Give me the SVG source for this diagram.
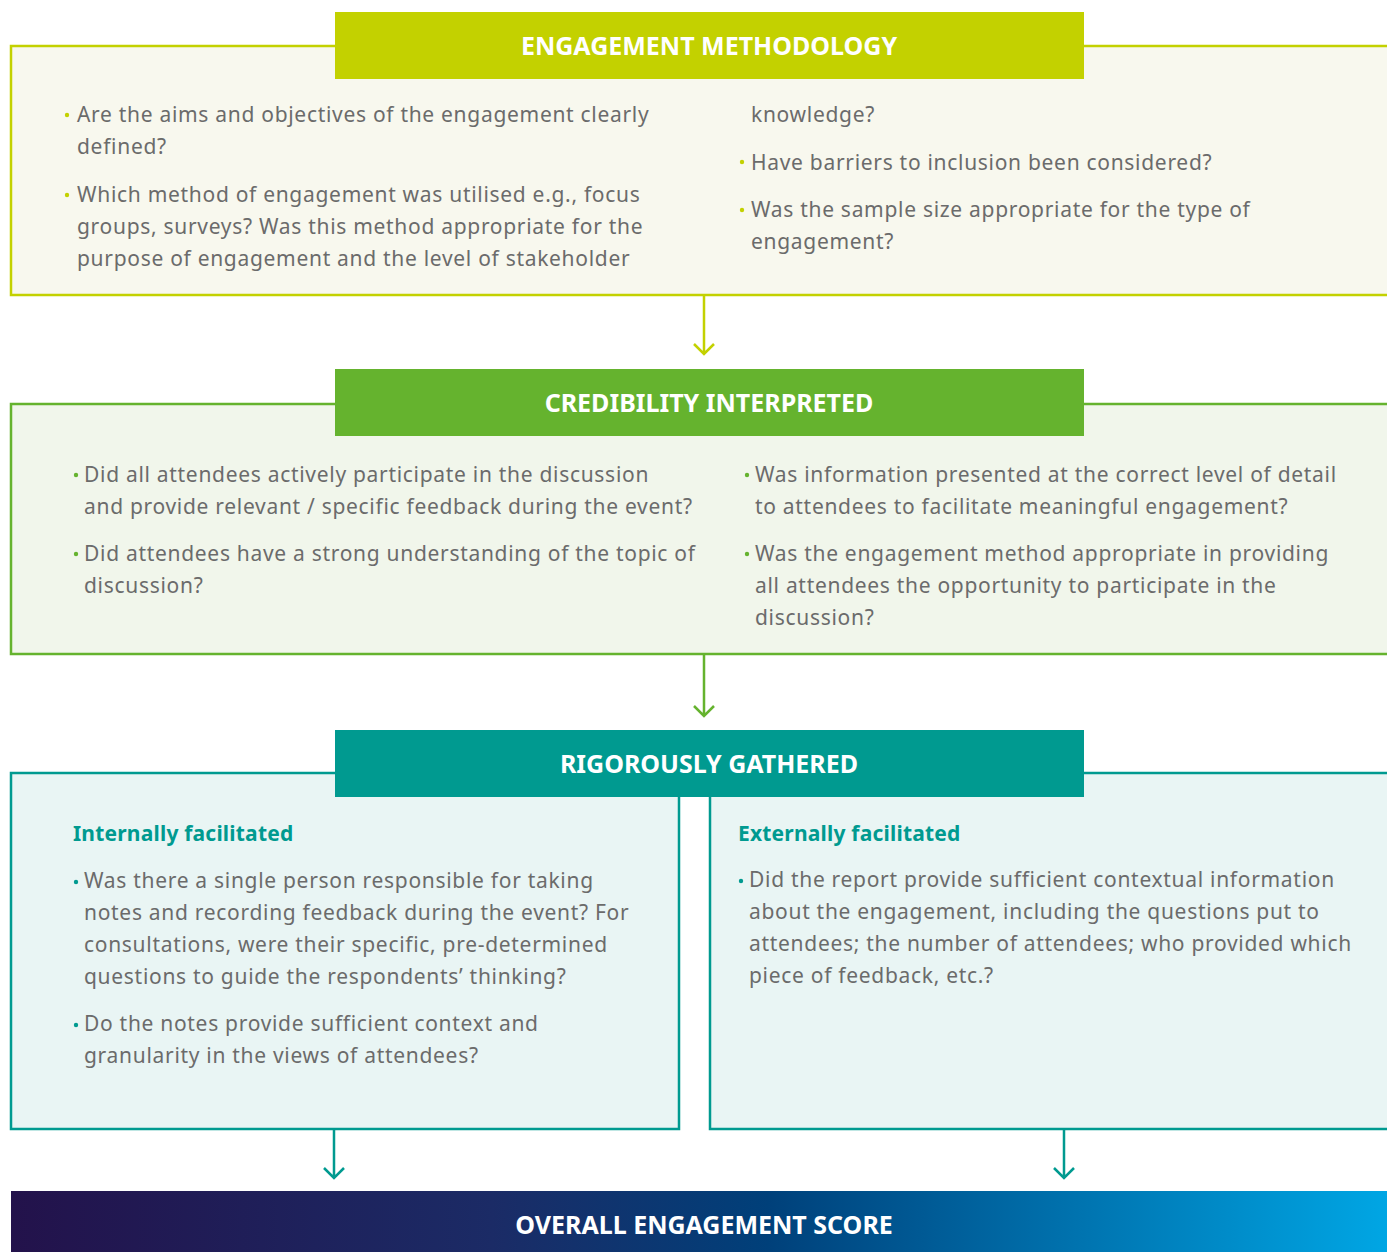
<svg xmlns="http://www.w3.org/2000/svg" width="1387" height="1252" viewBox="0 0 1387 1252">
<defs>
<style>
.t{font-family:"Noto Sans","Open Sans",sans-serif;font-size:21px;fill:#6b6b6b;letter-spacing:0.7px}
.h{font-family:"Noto Sans","Open Sans",sans-serif;font-size:25px;font-weight:bold;fill:#ffffff;text-anchor:middle}
.s{font-family:"Noto Sans","Open Sans",sans-serif;font-size:21px;font-weight:bold;fill:#009a90;letter-spacing:0.2px}
.c1{stroke:#c3d100}
.c2{stroke:#65b32e}
.c3{stroke:#009a90}
</style>
<linearGradient id="g" x1="0" y1="0" x2="1" y2="0">
<stop offset="0" stop-color="#23124b"/>
<stop offset="0.35" stop-color="#1b2b66"/>
<stop offset="0.55" stop-color="#00407a"/>
<stop offset="1" stop-color="#00a6e4"/>
</linearGradient>
</defs>
<rect width="1387" height="1252" fill="#ffffff"/>

<g id="engagement-methodology">
<rect x="11" y="46" width="1390" height="249" fill="#f8f8ee" stroke="#c3d100" stroke-width="2.5"/>
<rect x="335" y="12" width="749" height="67" fill="#c3d100"/>
<text class="h" x="709" y="55">ENGAGEMENT METHODOLOGY</text>
<g fill="#c3d100"><circle cx="67" cy="115" r="2.2"/><circle cx="67" cy="195" r="2.2"/><circle cx="742" cy="162" r="2.2"/><circle cx="742" cy="210" r="2.2"/></g>
<text class="t" x="77" y="122">Are the aims and objectives of the engagement clearly</text>
<text class="t" x="77" y="154">defined?</text>
<text class="t" x="77" y="202">Which method of engagement was utilised e.g., focus</text>
<text class="t" x="77" y="234">groups, surveys? Was this method appropriate for the</text>
<text class="t" x="77" y="266">purpose of engagement and the level of stakeholder</text>
<text class="t" x="751" y="122">knowledge?</text>
<text class="t" x="751" y="170">Have barriers to inclusion been considered?</text>
<text class="t" x="751" y="217">Was the sample size appropriate for the type of</text>
<text class="t" x="751" y="249">engagement?</text>
</g>

<g id="credibility-interpreted">
<rect x="11" y="404" width="1390" height="250" fill="#f1f6eb" stroke="#65b32e" stroke-width="2.5"/>
<rect x="335" y="369" width="749" height="67" fill="#65b32e"/>
<text class="h" x="709" y="412">CREDIBILITY INTERPRETED</text>
<g fill="#65b32e"><circle cx="76" cy="475" r="2.2"/><circle cx="76" cy="554" r="2.2"/><circle cx="747" cy="475" r="2.2"/><circle cx="747" cy="554" r="2.2"/></g>
<text class="t" x="84" y="482">Did all attendees actively participate in the discussion</text>
<text class="t" x="84" y="514">and provide relevant / specific feedback during the event?</text>
<text class="t" x="84" y="561">Did attendees have a strong understanding of the topic of</text>
<text class="t" x="84" y="593">discussion?</text>
<text class="t" x="755" y="482">Was information presented at the correct level of detail</text>
<text class="t" x="755" y="514">to attendees to facilitate meaningful engagement?</text>
<text class="t" x="755" y="561">Was the engagement method appropriate in providing</text>
<text class="t" x="755" y="593">all attendees the opportunity to participate in the</text>
<text class="t" x="755" y="625">discussion?</text>
</g>

<g id="rigorously-gathered">
<rect x="11" y="773" width="668" height="356" fill="#e9f5f4" stroke="#009a90" stroke-width="2.5"/>
<rect x="710" y="773" width="690" height="356" fill="#e9f5f4" stroke="#009a90" stroke-width="2.5"/>
<rect x="335" y="730" width="749" height="67" fill="#009a90"/>
<text class="h" x="709" y="773">RIGOROUSLY GATHERED</text>
<text class="s" x="73" y="841">Internally facilitated</text>
<text class="s" x="738" y="841">Externally facilitated</text>
<g fill="#009a90"><circle cx="76" cy="882" r="2.2"/><circle cx="76" cy="1025" r="2.2"/><circle cx="741" cy="881" r="2.2"/></g>
<text class="t" x="84" y="888">Was there a single person responsible for taking</text>
<text class="t" x="84" y="920">notes and recording feedback during the event? For</text>
<text class="t" x="84" y="952">consultations, were their specific, pre-determined</text>
<text class="t" x="84" y="984">questions to guide the respondents’ thinking?</text>
<text class="t" x="84" y="1031">Do the notes provide sufficient context and</text>
<text class="t" x="84" y="1063">granularity in the views of attendees?</text>
<text class="t" x="749" y="887">Did the report provide sufficient contextual information</text>
<text class="t" x="749" y="919">about the engagement, including the questions put to</text>
<text class="t" x="749" y="951">attendees; the number of attendees; who provided which</text>
<text class="t" x="749" y="983">piece of feedback, etc.?</text>
</g>

<g id="overall-engagement-score">
<rect x="11" y="1191" width="1376" height="61" fill="url(#g)"/>
<text class="h" x="704" y="1234">OVERALL ENGAGEMENT SCORE</text>
</g>

<g id="connectors" fill="none" stroke-width="2.5">
<path class="c1" d="M704 296V354M694 344L704 354L714 344"/>
<path class="c2" d="M704 655V716M694 706L704 716L714 706"/>
<path class="c3" d="M334 1130V1178M324 1168L334 1178L344 1168"/>
<path class="c3" d="M1064 1130V1178M1054 1168L1064 1178L1074 1168"/>
</g>
</svg>
